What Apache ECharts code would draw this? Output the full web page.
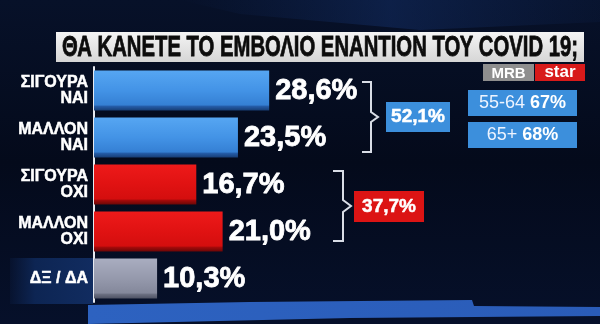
<!DOCTYPE html>
<html>
<head>
<meta charset="utf-8">
<script src="https://cdn.jsdelivr.net/npm/echarts@6/dist/echarts.min.js"></script>
<style>
  html, body { margin: 0; padding: 0; background: #050b1c; }
  #chart { width: 600px; height: 324px; }
</style>
</head>
<body>
<div id="chart"></div>
<script>
// Survey answers and their shares (%)
const categories = ['ΣΙΓΟΥΡΑ\nΝΑΙ', 'ΜΑΛΛΟΝ\nΝΑΙ', 'ΣΙΓΟΥΡΑ\nΟΧΙ', 'ΜΑΛΛΟΝ\nΟΧΙ', 'ΔΞ / ΔΑ'];
const shares = [28.6, 23.5, 16.7, 21.0, 10.3];
const barKinds = ['yes', 'yes', 'no', 'no', 'dk'];

// Group totals and age breakdown
const yesTotal = 52.1;
const noTotal = 37.7;
const ageGroups = ['55-64', '65+'];
const ageYes = [67, 68];

const titleText = 'ΘΑ ΚΑΝΕΤΕ ΤΟ ΕΜΒΟΛΙΟ ΕΝΑΝΤΙΟΝ ΤΟΥ COVID 19;';

const fmt = v => v.toFixed(1).replace('.', ',') + '%';

// squeeze a headline into a fixed width (condensed look)
const titleFont = 'bold 30px "Liberation Sans", Arial, sans-serif';
const measureCtx = document.createElement('canvas').getContext('2d');
measureCtx.font = titleFont;
const titleScale = 516 / measureCtx.measureText(titleText).width;

function grad(stops) {
  return new echarts.graphic.LinearGradient(0, 0, 0, 1,
    stops.map(s => ({ offset: s[0], color: s[1] })));
}
const fills = {
  yes: () => grad([[0, '#56a6f2'], [0.5, '#4393e6'], [0.86, '#3580d4'], [0.9, '#245ba6'], [1, '#173d74']]),
  no:  () => grad([[0, '#ee1a1a'], [0.5, '#e01212'], [0.86, '#d40e0e'], [0.9, '#a20a0a'], [1, '#6a0707']]),
  dk:  () => grad([[0, '#a9adc0'], [0.5, '#9599ac'], [0.86, '#84889b'], [0.9, '#6a6e80'], [1, '#4e5264']])
};

const chart = echarts.init(document.getElementById('chart'), null, { renderer: 'canvas' });

const white = '#ffffff';
const bracketColor = '#d9dde6';

chart.setOption({
  backgroundColor: new echarts.graphic.LinearGradient(0, 0, 0, 1, [
    { offset: 0, color: '#071129' },
    { offset: 0.5, color: '#040a1b' },
    { offset: 1, color: '#06102a' }
  ]),
  animation: false,
  grid: { left: 94, right: 16, top: 67, bottom: 22 },
  xAxis: {
    type: 'value', min: 0, max: 80, show: false
  },
  yAxis: {
    type: 'category',
    data: categories,
    inverse: true,
    axisTick: { show: false },
    axisLine: { show: true, lineStyle: { color: '#e6e9f0', width: 2 } },
    axisLabel: {
      margin: 6,
      color: white,
      fontFamily: 'Liberation Sans, Arial, sans-serif',
      fontWeight: 'bold',
      fontSize: 16,
      lineHeight: 16,
      align: 'right',
      textBorderColor: white,
      textBorderWidth: 0.5
    }
  },
  series: [{
    type: 'bar',
    barWidth: 40,
    data: shares.map((v, i) => ({ value: v, itemStyle: { color: fills[barKinds[i]]() } })),
    label: {
      show: true,
      position: 'right',
      distance: 6,
      formatter: p => fmt(p.value),
      color: white,
      fontFamily: 'Liberation Sans, Arial, sans-serif',
      fontWeight: 'bold',
      fontSize: 29,
      textBorderColor: white,
      textBorderWidth: 0.8
    },
    z: 5
  }],
  graphic: [
    // faint blue streaks at the top of the backdrop
    {
      type: 'polygon', z: -10, silent: true,
      shape: { points: [[180, 0], [600, 0], [600, 22], [420, 30], [240, 14]] },
      style: { fill: new echarts.graphic.LinearGradient(0, 0, 1, 0, [
        { offset: 0, color: 'rgba(20,50,110,0)' },
        { offset: 0.5, color: 'rgba(25,60,130,0.35)' },
        { offset: 1, color: 'rgba(20,50,110,0.1)' }
      ]) }
    },
    // title plate
    {
      type: 'rect', z: 10,
      shape: { x: 56, y: 32, width: 528, height: 30 },
      style: { fill: new echarts.graphic.LinearGradient(0, 0, 0, 1, [
        { offset: 0, color: '#f4f4f4' }, { offset: 1, color: '#d6d6d6' }
      ]) }
    },
    {
      type: 'text', z: 11,
      x: 320, y: 48, scaleX: titleScale,
      style: {
        text: titleText,
        fill: '#0c0c0c',
        font: titleFont,
        stroke: '#0c0c0c', lineWidth: 0.8,
        align: 'center', verticalAlign: 'middle'
      }
    },
    // broadcaster tag
    { type: 'rect', z: 10, shape: { x: 483, y: 64, width: 51, height: 17 }, style: { fill: '#8e8e8e' } },
    { type: 'text', z: 11, x: 508.5, y: 73.5, style: { text: 'MRB', fill: white, font: 'bold 15px "Liberation Sans", sans-serif', align: 'center', verticalAlign: 'middle' } },
    { type: 'rect', z: 10, shape: { x: 535, y: 64, width: 50, height: 17 }, style: { fill: '#d81a1a' } },
    { type: 'text', z: 11, x: 560, y: 72.5, style: { text: 'star', fill: white, font: 'bold 17px "Liberation Sans", sans-serif', align: 'center', verticalAlign: 'middle' } },
    // panel behind the "don't know" label
    {
      type: 'rect', z: -5,
      shape: { x: 10, y: 258, width: 83, height: 46 },
      style: { fill: new echarts.graphic.LinearGradient(0, 0, 1, 0, [
        { offset: 0, color: 'rgba(14,36,80,0.2)' }, { offset: 0.3, color: '#0d2553' }, { offset: 1, color: '#112c60' }
      ]) }
    },
    // blue ribbon along the bottom
    {
      type: 'polygon', z: 1,
      shape: { points: [[88, 305], [250, 302], [472, 300], [474, 306], [600, 307], [600, 316], [350, 318], [88, 324]] },
      style: { fill: new echarts.graphic.LinearGradient(0, 0, 1, 0, [
        { offset: 0, color: '#2d62c0' }, { offset: 1, color: '#2a5cb8' }
      ]) }
    },
    // bracket for the "yes" answers
    {
      type: 'polyline', z: 6,
      shape: { points: [[362, 82], [371, 82], [371, 112], [378, 117], [371, 122], [371, 152], [362, 152]] },
      style: { stroke: bracketColor, lineWidth: 2, fill: null }
    },
    { type: 'rect', z: 6, shape: { x: 386, y: 102, width: 64, height: 30 }, style: { fill: '#3c8fdc' } },
    {
      type: 'text', z: 7, x: 418, y: 117,
      style: { text: fmt(yesTotal), fill: white, font: 'bold 19px "Liberation Sans", sans-serif',
        align: 'center', verticalAlign: 'middle', stroke: white, lineWidth: 0.5 }
    },
    // bracket for the "no" answers
    {
      type: 'polyline', z: 6,
      shape: { points: [[333, 171], [343, 171], [343, 200], [351, 206], [343, 212], [343, 241], [333, 241]] },
      style: { stroke: bracketColor, lineWidth: 2, fill: null }
    },
    { type: 'rect', z: 6, shape: { x: 354, y: 191, width: 70, height: 31 }, style: { fill: '#dc1414' } },
    {
      type: 'text', z: 7, x: 389, y: 206.5,
      style: { text: fmt(noTotal), fill: white, font: 'bold 19px "Liberation Sans", sans-serif',
        align: 'center', verticalAlign: 'middle', stroke: white, lineWidth: 0.5 }
    },
    // age breakdown of "yes"
    ...ageGroups.flatMap((g, i) => {
      const y = 90 + i * 32;
      return [
        { type: 'rect', z: 6, shape: { x: 468, y: y, width: 109, height: 26 }, style: { fill: '#3c8fdc' } },
        {
          type: 'text', z: 7, x: 522.5, y: y + 13,
          style: {
            text: '{a|' + g + ' }{b|' + ageYes[i] + '%}',
            align: 'center', verticalAlign: 'middle',
            rich: {
              a: { fill: '#eef4ff', font: '18px "Liberation Sans", sans-serif' },
              b: { fill: white, font: 'bold 18px "Liberation Sans", sans-serif' }
            }
          }
        }
      ];
    })
  ]
});
</script>
</body>
</html>
